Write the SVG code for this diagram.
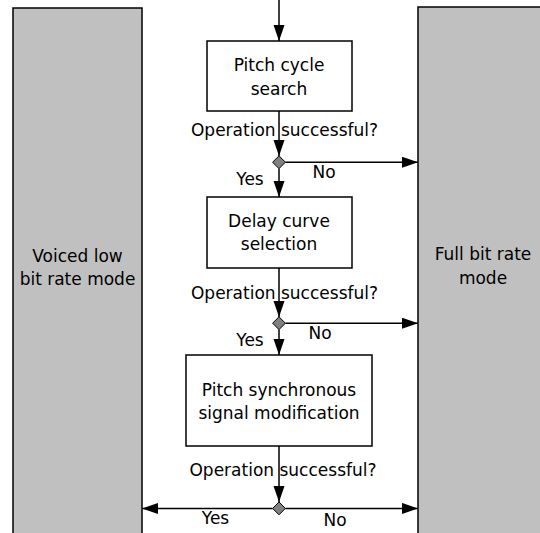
<svg xmlns="http://www.w3.org/2000/svg" width="540" height="533" viewBox="0 0 540 533">
<defs>
<style>
.mode{fill:#c0c0c0;stroke:#000;stroke-width:1.5}
.box{fill:#fff;stroke:#000;stroke-width:1.5}
.dia{fill:#808080;stroke:#000;stroke-width:1}
.ln{fill:none;stroke:#000;stroke-width:1.5}
text{font-family:"DejaVu Sans","Liberation Sans",sans-serif;font-size:17px;fill:#000;text-anchor:middle}
</style>
<marker id="ah" markerUnits="userSpaceOnUse" markerWidth="18" markerHeight="12" refX="16" refY="5.5" orient="auto">
<path d="M0,0 L16,5.5 L0,11 Z" fill="#000"/>
</marker>
</defs>
<g id="voiced">
<rect class="mode" x="13" y="8" width="129" height="540"/>
<text x="77.5" y="261.5">Voiced low</text>
<text x="77.5" y="285">bit rate mode</text>
</g>
<g id="full">
<rect class="mode" x="418" y="7" width="130" height="540"/>
<text x="483" y="260">Full bit rate</text>
<text x="483" y="283.5">mode</text>
</g>
<g id="pitch-search">
<rect class="box" x="207" y="41" width="145" height="70"/>
<text x="279" y="71">Pitch cycle</text>
<text x="279" y="94.5">search</text>
</g>
<g id="delay">
<rect class="box" x="207" y="197" width="145" height="71"/>
<text x="279" y="226.5">Delay curve</text>
<text x="279" y="250">selection</text>
</g>
<g id="pitch-sync">
<rect class="box" x="186" y="355" width="186" height="91"/>
<text x="279" y="395.5">Pitch synchronous</text>
<text x="279" y="419">signal modification</text>
</g>
<g id="decision1">
<path class="dia" d="M279,155.8 L285.4,162.2 L279,168.6 L272.6,162.2 Z"/>
</g>
<g id="decision2">
<path class="dia" d="M279,316.8 L285.4,323.2 L279,329.6 L272.6,323.2 Z"/>
</g>
<g id="decision3">
<path class="dia" d="M279,502 L285.4,508.4 L279,514.8 L272.6,508.4 Z"/>
</g>
<g id="connectors">
<line class="ln" x1="279" y1="0" x2="279" y2="41" marker-end="url(#ah)"/>
<line class="ln" x1="279" y1="111" x2="279" y2="156" marker-end="url(#ah)"/>
<line class="ln" x1="279" y1="168.6" x2="279" y2="197" marker-end="url(#ah)"/>
<line class="ln" x1="285.4" y1="162.2" x2="418" y2="162.2" marker-end="url(#ah)"/>
<line class="ln" x1="279" y1="268" x2="279" y2="317" marker-end="url(#ah)"/>
<line class="ln" x1="279" y1="329.6" x2="279" y2="355" marker-end="url(#ah)"/>
<line class="ln" x1="285.4" y1="323.2" x2="418" y2="323.2" marker-end="url(#ah)"/>
<line class="ln" x1="279" y1="446" x2="279" y2="502" marker-end="url(#ah)"/>
<line class="ln" x1="285.4" y1="508.4" x2="418" y2="508.4" marker-end="url(#ah)"/>
<line class="ln" x1="272.6" y1="508.4" x2="142" y2="508.4" marker-end="url(#ah)"/>
</g>
<g id="labels">
<text x="284.5" y="135.5">Operation successful?</text>
<text x="250" y="185">Yes</text>
<text x="324" y="178">No</text>
<text x="284.5" y="299">Operation successful?</text>
<text x="250" y="345.5">Yes</text>
<text x="320" y="339">No</text>
<text x="283" y="476">Operation successful?</text>
<text x="215.5" y="523.5">Yes</text>
<text x="335" y="525.5">No</text>
</g>
</svg>
